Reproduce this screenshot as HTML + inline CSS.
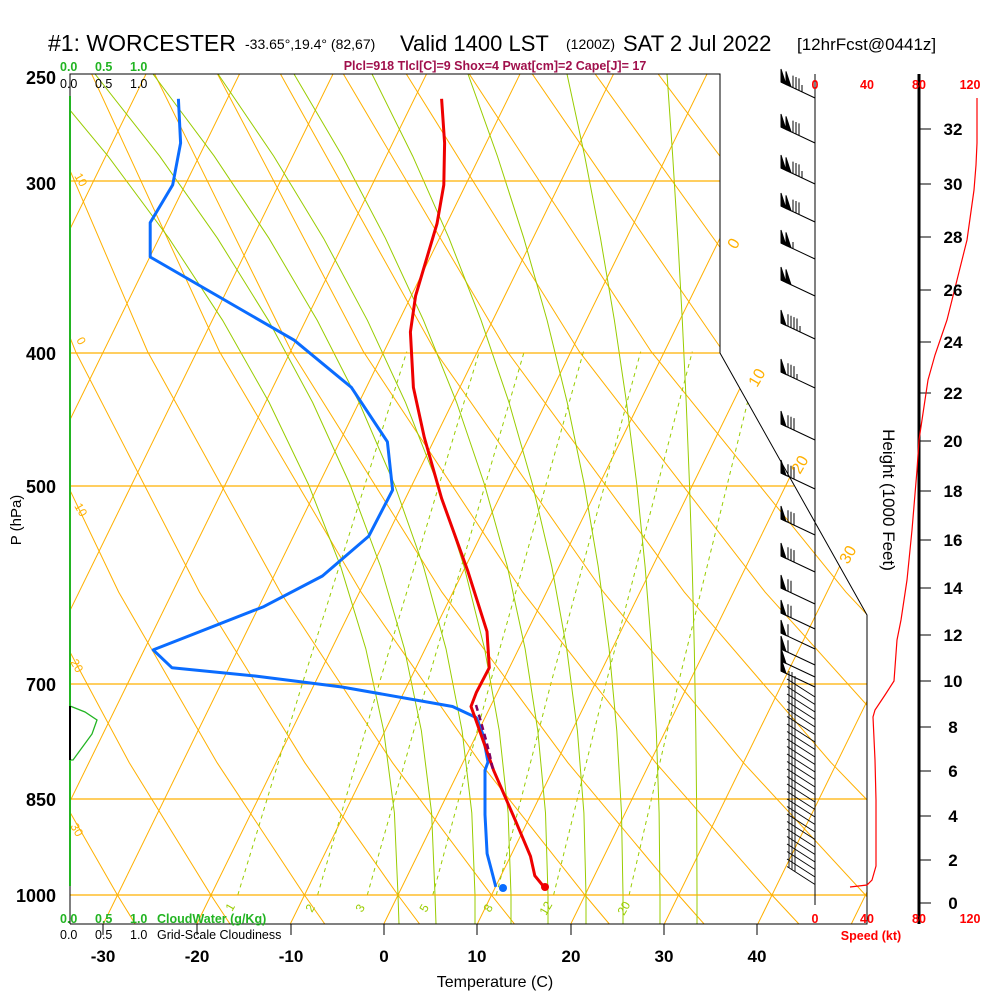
<!DOCTYPE html>
<html><head><meta charset="utf-8">
<style>
html,body{margin:0;padding:0;background:#fff;}
svg{display:block;font-family:"Liberation Sans",Arial,sans-serif;}
</style></head>
<body>
<svg width="1000" height="1000" viewBox="0 0 1000 1000" xmlns="http://www.w3.org/2000/svg">
<defs>
<clipPath id="cp"><polygon points="70,74 720,74 720,353 867,615 867,924 70,924"/></clipPath>
<clipPath id="cp2"><polygon points="70,74 720,74 720,353 867,615 867,924 70,924"/></clipPath>
<g id="b24"><line x1="815" y1="0" x2="781" y2="-16"/><polygon points="781,-16 786,-13.6 781,-29"/><polygon points="786,-13.6 791,-11.3 786,-26.6"/><line x1="793" y1="-10.4" x2="793" y2="-22.4"/><line x1="796" y1="-9" x2="796" y2="-21"/><line x1="799" y1="-7.6" x2="799" y2="-19.6"/><line x1="802" y1="-6.1" x2="802" y2="-13"/></g>
<g id="b23"><line x1="815" y1="0" x2="781" y2="-16"/><polygon points="781,-16 786,-13.6 781,-29"/><polygon points="786,-13.6 791,-11.3 786,-26.6"/><line x1="793" y1="-10.4" x2="793" y2="-22.4"/><line x1="796" y1="-9" x2="796" y2="-21"/><line x1="799" y1="-7.6" x2="799" y2="-19.6"/></g>
<g id="b21"><line x1="815" y1="0" x2="781" y2="-16"/><polygon points="781,-16 786,-13.6 781,-29"/><polygon points="786,-13.6 791,-11.3 786,-26.6"/><line x1="793" y1="-10.4" x2="793" y2="-17"/></g>
<g id="b20"><line x1="815" y1="0" x2="781" y2="-16"/><polygon points="781,-16 786,-13.6 781,-29"/><polygon points="786,-13.6 791,-11.3 786,-26.6"/></g>
<g id="b15"><line x1="815" y1="0" x2="781" y2="-16"/><polygon points="781,-16 786,-13.6 781,-29"/><line x1="788" y1="-12.7" x2="788" y2="-24.7"/><line x1="791" y1="-11.3" x2="791" y2="-23.3"/><line x1="794" y1="-9.9" x2="794" y2="-21.9"/><line x1="797" y1="-8.5" x2="797" y2="-20.5"/><line x1="800" y1="-7.1" x2="800" y2="-13"/></g>
<g id="b14"><line x1="815" y1="0" x2="781" y2="-16"/><polygon points="781,-16 786,-13.6 781,-29"/><line x1="788" y1="-12.7" x2="788" y2="-24.7"/><line x1="791" y1="-11.3" x2="791" y2="-23.3"/><line x1="794" y1="-9.9" x2="794" y2="-21.9"/><line x1="797" y1="-8.5" x2="797" y2="-14"/></g>
<g id="b13"><line x1="815" y1="0" x2="781" y2="-16"/><polygon points="781,-16 786,-13.6 781,-29"/><line x1="788" y1="-12.7" x2="788" y2="-24.7"/><line x1="791" y1="-11.3" x2="791" y2="-23.3"/><line x1="794" y1="-9.9" x2="794" y2="-21.9"/></g>
<g id="b12"><line x1="815" y1="0" x2="781" y2="-16"/><polygon points="781,-16 786,-13.6 781,-29"/><line x1="788" y1="-12.7" x2="788" y2="-24.7"/><line x1="791" y1="-11.3" x2="791" y2="-23.3"/></g>
<g id="b11"><line x1="815" y1="0" x2="781" y2="-16"/><polygon points="781,-16 786,-13.6 781,-29"/><line x1="788" y1="-12.7" x2="788" y2="-24.7"/></g>
<g id="b10"><line x1="815" y1="0" x2="781" y2="-16"/><polygon points="781,-16 786,-13.6 781,-29"/></g>
<g id="bd"><line x1="815" y1="0" x2="787" y2="-18"/><line x1="789" y1="-16.7" x2="789" y2="-26"/><line x1="792" y1="-14.8" x2="792" y2="-25"/><line x1="795" y1="-12.9" x2="795" y2="-21"/></g>
</defs>
<rect width="1000" height="1000" fill="#fff"/>

<g clip-path="url(#cp)" fill="none">
<!-- isotherms -->
<g stroke="#ffb000" stroke-width="1">
<line x1="-364.2" y1="924" x2="53" y2="73"/><line x1="-270.7" y1="924" x2="146.5" y2="73"/>
<line x1="-177.2" y1="924" x2="240" y2="73"/><line x1="-83.7" y1="924" x2="333.5" y2="73"/>
<line x1="9.8" y1="924" x2="427" y2="73"/><line x1="103.3" y1="924" x2="520.5" y2="73"/>
<line x1="196.8" y1="924" x2="614" y2="73"/><line x1="290.3" y1="924" x2="707.5" y2="73"/>
<line x1="383.8" y1="924" x2="801" y2="73"/><line x1="477.3" y1="924" x2="894.5" y2="73"/>
<line x1="570.8" y1="924" x2="988" y2="73"/><line x1="664.3" y1="924" x2="1081.5" y2="73"/>
<line x1="757.8" y1="924" x2="1175" y2="73"/><line x1="851.3" y1="924" x2="1268.5" y2="73"/>
</g>
<!-- dry adiabats -->
<g stroke="#ffb000" stroke-width="1">
<polyline points="40.4,924 23.9,895 -46.1,762.7"/>
<polyline points="135.2,924 117.4,895 41.6,762.7 -42.9,592.1"/>
<polyline points="230,924 210.9,895 129.3,762.7 37.9,592.1 -68.3,351.6"/>
<polyline points="324.8,924 304.4,895 217.1,762.7 118.7,592.1 3.7,351.6 -97.6,73"/>
<polyline points="419.6,924 397.9,895 304.8,762.7 199.5,592.1 75.6,351.6 -34.7,73"/>
<polyline points="514.5,924 491.4,895 392.5,762.7 280.3,592.1 147.6,351.6 28.2,73"/>
<polyline points="609.3,924 584.9,895 480.2,762.7 361.1,592.1 219.5,351.6 91.2,73"/>
<polyline points="704.1,924 678.4,895 567.9,762.7 441.9,592.1 291.5,351.6 154.1,73"/>
<polyline points="798.9,924 771.9,895 655.7,762.7 522.7,592.1 363.4,351.6 217,73"/>
<polyline points="893.7,924 865.4,895 743.4,762.7 603.5,592.1 435.4,351.6 279.9,73"/>
<polyline points="988.5,924 958.9,895 831.1,762.7 684.3,592.1 507.3,351.6 342.8,73"/>
<polyline points="1083.3,924 1052.4,895 918.8,762.7 765.1,592.1 579.3,351.6 405.7,73"/>
<polyline points="1178,924 1145.9,895 1006.5,762.7 845.9,592.1 651.2,351.6 468.6,73"/>
<polyline points="1272,924 1239,895 1094.3,762.7 926.7,592.1 723.2,351.6 531.6,73"/>
<polyline points="1367,924 1333,895 1182,762.7 1007.5,592.1 795.1,351.6 594.5,73"/>
<polyline points="1462,924 1426,895 1270,762.7 1088.3,592.1 867.1,351.6 657.4,73"/>
<polyline points="1557,924 1520,895 1357,762.7 1169,592.1 939,351.6 720.3,73"/>
</g>
<!-- moist adiabats -->
<g stroke="#99cc00" stroke-width="1">
<polyline points="697,924 697,895 696.7,812.9 695.8,730.8 694.3,648.7 692.2,566.6 689.5,484.5 686.2,402.4 682.3,320.3 677.8,238.2 672.7,156.1 667,74"/>
<polyline points="660,924 660,895 659.1,812.9 656.3,730.8 651.6,648.7 645.1,566.6 636.8,484.5 626.5,402.4 614.4,320.3 600.5,238.2 584.7,156.1 567,74"/>
<polyline points="623,924 623,895 621.5,812.9 616.8,730.8 609.1,648.7 598.2,566.6 584.3,484.5 567.2,402.4 547.1,320.3 523.8,238.2 497.4,156.1 468,74"/>
<polyline points="586,924 586,895 583.9,812.9 577.4,730.8 566.7,648.7 551.8,566.6 532.5,484.5 509,402.4 481.1,320.3 449,238.2 412.7,156.1 372,74"/>
<polyline points="548,924 548,895 545.5,812.9 537.8,730.8 525.1,648.7 507.4,566.6 484.5,484.5 456.6,402.4 423.5,320.3 385.4,238.2 342.3,156.1 294,74"/>
<polyline points="511,924 511,895 508.1,812.9 499.3,730.8 484.6,648.7 464.1,566.6 437.8,484.5 405.5,402.4 367.4,320.3 323.5,238.2 273.7,156.1 218,74"/>
<polyline points="475,924 475,895 471.8,812.9 462.1,730.8 446,648.7 423.5,566.6 394.5,484.5 359.1,402.4 317.2,320.3 268.9,238.2 214.2,156.1 153,74"/>
<polyline points="436,924 435,895 431.6,812.9 421.4,730.8 404.4,648.7 380.6,566.6 350,484.5 312.6,402.4 268.4,320.3 217.4,238.2 159.6,156.1 95,74"/>
<polyline points="399,924 398,895 394.4,812.9 383.7,730.8 365.8,648.7 340.7,566.6 308.5,484.5 269.1,402.4 222.6,320.3 168.9,238.2 108,156.1 40,74"/>
</g>
<!-- mixing ratio -->
<g stroke="#99cc00" stroke-width="1" stroke-dasharray="4,4">
<polyline points="237.8,895 302.4,683.5 406.8,351.6"/>
<polyline points="317.6,895 379.2,683.5 479.3,351.6"/>
<polyline points="367.3,895 427.1,683.5 524.2,351.6"/>
<polyline points="432.8,895 490,683.5 583.5,351.6"/>
<polyline points="496.3,895 550.9,683.5 640.7,351.6"/>
<polyline points="553.6,895 605.9,683.5 692.3,351.6"/>
<polyline points="629.1,895 678.3,683.5 760,351.6"/>
</g>
</g>

<!-- isobars -->
<g stroke="#ffb000" stroke-width="1.2">
<line x1="70" y1="181" x2="720" y2="181"/>
<line x1="70" y1="353" x2="720" y2="353"/>
<line x1="70" y1="486" x2="794" y2="486"/>
<line x1="70" y1="684" x2="867" y2="684"/>
<line x1="70" y1="799" x2="867" y2="799"/>
<line x1="70" y1="895" x2="867" y2="895"/>
</g>

<!-- border -->
<polyline points="70,924 70,74 720,74 720,353 867,615 867,924 70,924" fill="none" stroke="#000" stroke-width="1"/>
<line x1="70" y1="96" x2="70" y2="886" stroke="#22b422" stroke-width="2"/>
<polyline points="70,706 85,712 97,720 92,734 73,760 70,760" fill="none" stroke="#22b422" stroke-width="1.3"/>
<line x1="70" y1="706" x2="70" y2="760" stroke="#000" stroke-width="2"/>

<g stroke="#000" stroke-width="1">
<line x1="103" y1="924" x2="103" y2="935"/><line x1="197" y1="924" x2="197" y2="935"/>
<line x1="291" y1="924" x2="291" y2="935"/><line x1="384" y1="924" x2="384" y2="935"/>
<line x1="477" y1="924" x2="477" y2="935"/><line x1="571" y1="924" x2="571" y2="935"/>
<line x1="664" y1="924" x2="664" y2="935"/><line x1="757" y1="924" x2="757" y2="935"/>
</g>

<!-- profiles -->
<polyline fill="none" stroke="#0a6cff" stroke-width="3" stroke-linejoin="round" points="178.4,98.8 180.6,143 172.7,184.9 150.2,222.6 150.2,257 294.2,340.2 351.4,387.4 387.4,441.8 392.6,490 368.8,536.1 322.4,576 263.8,606.6 153.2,649.9 171.9,667.7 255.1,676 341.9,687 452.5,706.5 476.3,717.6 482.8,734.2 488,762 485,770.3 485,814.7 487.1,853.6 491.5,870.2 495.8,886.9"/>
<circle cx="503" cy="888" r="4" fill="#0a6cff"/>
<polyline fill="none" stroke="#ee0000" stroke-width="3" stroke-linejoin="round" points="441.6,98.8 444.6,143 443.8,184.9 437,223.7 415.6,295.8 410.4,332 413.4,387.4 424.3,437.4 441.6,498.4 467.6,570.5 487,631.6 489.3,667.7 476.3,692.6 471,706.5 476,720.4 493.6,770.3 515.3,820.3 530.5,856.3 534.8,875.7 544.8,888"/>
<circle cx="545" cy="887" r="4" fill="#ee0000"/>
<polyline fill="none" stroke="#800060" stroke-width="2.5" stroke-dasharray="6,4" points="476,705 481,722 486,740 490,756 493,770"/>

<!-- wind barbs -->
<line x1="815" y1="74" x2="815" y2="905" stroke="#000" stroke-width="1"/>
<g stroke="#000" fill="#000" stroke-width="1">
<use href="#b24" y="98"/><use href="#b23" y="143"/><use href="#b24" y="184"/><use href="#b23" y="222"/>
<use href="#b21" y="259"/><use href="#b20" y="296"/><use href="#b15" y="339"/><use href="#b14" y="388"/>
<use href="#b13" y="440"/><use href="#b13" y="489"/><use href="#b13" y="535"/><use href="#b13" y="572"/>
<use href="#b12" y="604"/><use href="#b12" y="629"/><use href="#b11" y="649"/><use href="#b11" y="665"/>
<use href="#b10" y="677"/><use href="#b10" y="687"/>
</g>
<g stroke="#000" fill="none" stroke-width="0.9">
<use href="#bd" y="697"/><use href="#bd" y="704.5"/><use href="#bd" y="712"/><use href="#bd" y="719.5"/>
<use href="#bd" y="727"/><use href="#bd" y="734.5"/><use href="#bd" y="742"/><use href="#bd" y="749.5"/>
<use href="#bd" y="757"/><use href="#bd" y="764.5"/><use href="#bd" y="772"/><use href="#bd" y="779.5"/>
<use href="#bd" y="787"/><use href="#bd" y="794.5"/><use href="#bd" y="802"/><use href="#bd" y="809.5"/>
<use href="#bd" y="817"/><use href="#bd" y="824.5"/><use href="#bd" y="832"/><use href="#bd" y="839.5"/>
<use href="#bd" y="847"/><use href="#bd" y="854.5"/><use href="#bd" y="862"/><use href="#bd" y="869.5"/>
<use href="#bd" y="877"/><use href="#bd" y="884.5"/>
</g>

<line x1="919" y1="74" x2="919" y2="924" stroke="#000" stroke-width="3"/>
<g stroke="#000" stroke-width="1">
<line x1="919" y1="129" x2="931" y2="129"/><line x1="919" y1="184" x2="931" y2="184"/>
<line x1="919" y1="237" x2="931" y2="237"/><line x1="919" y1="290" x2="931" y2="290"/>
<line x1="919" y1="342" x2="931" y2="342"/><line x1="919" y1="393" x2="931" y2="393"/>
<line x1="919" y1="441" x2="931" y2="441"/><line x1="919" y1="491" x2="931" y2="491"/>
<line x1="919" y1="540" x2="931" y2="540"/><line x1="919" y1="588" x2="931" y2="588"/>
<line x1="919" y1="635" x2="931" y2="635"/><line x1="919" y1="681" x2="931" y2="681"/>
<line x1="919" y1="727" x2="931" y2="727"/><line x1="919" y1="771" x2="931" y2="771"/>
<line x1="919" y1="816" x2="931" y2="816"/><line x1="919" y1="860" x2="931" y2="860"/>
<line x1="919" y1="903" x2="931" y2="903"/>
</g>
<polyline fill="none" stroke="#ff0000" stroke-width="1.2" points="977,98 977,143 976,165 974,190 967,240 957,280 947,320 935,355 928,380 922,420 919,440 917,470 912,530 907,580 901,620 897,640 894,681 885,695 875,710 873,717 875,760 876,800 876,866 872,880 867,885 850,887"/>

<!-- text -->
<g fill="#000">
<text x="48" y="51" font-size="23">#1: WORCESTER</text>
<text x="245" y="49" font-size="14">-33.65°,19.4° (82,67)</text>
<text x="400" y="51" font-size="22">Valid 1400 LST</text>
<text x="566" y="49" font-size="14">(1200Z)</text>
<text x="623" y="51" font-size="22">SAT 2 Jul 2022</text>
<text x="797" y="50" font-size="17">[12hrFcst@0441z]</text>
</g>
<text x="495" y="70" font-size="12.5" font-weight="bold" fill="#a0104c" text-anchor="middle">Plcl=918 Tlcl[C]=9 Shox=4 Pwat[cm]=2 Cape[J]= 17</text>
<g font-size="12.5" font-weight="bold" fill="#22b422">
<text x="60" y="71">0.0</text><text x="95" y="71">0.5</text><text x="130" y="71">1.0</text>
<text x="60" y="923">0.0</text><text x="95" y="923">0.5</text><text x="130" y="923">1.0</text>
<text x="157" y="923">CloudWater (g/Kg)</text>
</g>
<g font-size="12.5" fill="#000">
<text x="60" y="88">0.0</text><text x="95" y="88">0.5</text><text x="130" y="88">1.0</text>
<text x="60" y="939">0.0</text><text x="95" y="939">0.5</text><text x="130" y="939">1.0</text>
<text x="157" y="939">Grid-Scale Cloudiness</text>
</g>
<g font-size="18" font-weight="bold" fill="#000" text-anchor="end">
<text x="56" y="84">250</text><text x="56" y="190">300</text><text x="56" y="360">400</text>
<text x="56" y="493">500</text><text x="56" y="691">700</text><text x="56" y="806">850</text>
<text x="56" y="902">1000</text>
</g>
<text transform="translate(21,520) rotate(-90)" font-size="15" text-anchor="middle">P (hPa)</text>
<g font-size="17" font-weight="bold" fill="#000" text-anchor="middle">
<text x="103" y="962">-30</text><text x="197" y="962">-20</text><text x="291" y="962">-10</text>
<text x="384" y="962">0</text><text x="477" y="962">10</text><text x="571" y="962">20</text>
<text x="664" y="962">30</text><text x="757" y="962">40</text>
</g>
<text x="495" y="987" font-size="16" text-anchor="middle">Temperature (C)</text>
<g font-size="12.5" font-weight="bold" fill="#ff0000" text-anchor="middle">
<text x="815" y="89">0</text><text x="867" y="89">40</text><text x="919" y="89">80</text><text x="970" y="89">120</text>
<text x="815" y="923">0</text><text x="867" y="923">40</text><text x="919" y="923">80</text><text x="970" y="923">120</text>
<text x="871" y="940">Speed (kt)</text>
</g>
<g font-size="17" font-weight="bold" fill="#000" text-anchor="middle">
<text x="953" y="135">32</text><text x="953" y="190">30</text><text x="953" y="243">28</text>
<text x="953" y="296">26</text><text x="953" y="348">24</text><text x="953" y="399">22</text>
<text x="953" y="447">20</text><text x="953" y="497">18</text><text x="953" y="546">16</text>
<text x="953" y="594">14</text><text x="953" y="641">12</text><text x="953" y="687">10</text>
<text x="953" y="733">8</text><text x="953" y="777">6</text><text x="953" y="822">4</text>
<text x="953" y="866">2</text><text x="953" y="909">0</text>
</g>
<text transform="translate(883,500) rotate(90)" font-size="17" text-anchor="middle">Height (1000 Feet)</text>

<g font-size="16" fill="#ffb000">
<text transform="translate(736,250) rotate(-60)">0</text>
<text transform="translate(757,388) rotate(-60)">10</text>
<text transform="translate(800,475) rotate(-60)">20</text>
<text transform="translate(848,565) rotate(-60)">30</text>
</g>
<g font-size="12" fill="#ffb000">
<text transform="translate(74,176) rotate(60)">10</text>
<text transform="translate(76,340) rotate(60)">0</text>
<text transform="translate(74,506) rotate(60)">10</text>
<text transform="translate(70,662) rotate(60)">20</text>
<text transform="translate(70,826) rotate(60)">30</text>
</g>
<g font-size="12" fill="#99cc00">
<text transform="translate(232,912) rotate(-60)">1</text>
<text transform="translate(312,913) rotate(-60)">2</text>
<text transform="translate(362,913) rotate(-60)">3</text>
<text transform="translate(426,913) rotate(-60)">5</text>
<text transform="translate(490,913) rotate(-60)">8</text>
<text transform="translate(546,916) rotate(-60)">12</text>
<text transform="translate(624,916) rotate(-60)">20</text>
</g>
</svg>
</body></html>
